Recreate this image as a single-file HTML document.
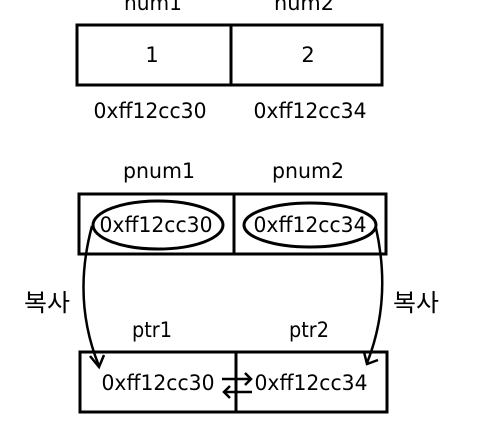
<!DOCTYPE html>
<html><head><meta charset="utf-8"><style>html,body{margin:0;padding:0;background:#fff}svg{display:block}</style></head>
<body>
<svg width="478" height="438" viewBox="0 0 478 438" xmlns="http://www.w3.org/2000/svg" font-family="'DejaVu Sans','Noto Sans CJK KR',sans-serif" font-size="21" fill="#000">
<g fill="none" stroke="#000" stroke-width="3">
<rect x="77" y="25" width="305" height="60"/>
<line x1="231" y1="25" x2="231" y2="85"/>
<rect x="79" y="194" width="307" height="60"/>
<line x1="234" y1="194" x2="234" y2="254"/>
<rect x="80" y="352" width="307" height="60"/>
<line x1="236" y1="352" x2="236" y2="412"/>
<ellipse cx="158" cy="225" rx="65" ry="24"/>
<ellipse cx="310" cy="225" rx="66" ry="22"/>
<path d="M92 226 Q72 300 99 366" stroke-width="2.5"/>
<path d="M90 356 L99 367 L104 355" stroke-width="2.5"/>
<path d="M376 228 Q392 300 367 363" stroke-width="2.5"/>
<path d="M364 352 L367 364 L378 360" stroke-width="2.5"/>
<path d="M222 379 L251 379 M245 373 L251 379 L245 385" stroke-width="2.5"/>
<path d="M252 392 L224 392 M230 386 L224 392 L230 398" stroke-width="2.5"/>
</g>
<g text-anchor="middle">
<text x="153" y="10" textLength="58" lengthAdjust="spacingAndGlyphs">num1</text>
<text x="304" y="10" textLength="60" lengthAdjust="spacingAndGlyphs">num2</text>
<text x="152" y="62">1</text>
<text x="308" y="62">2</text>
<text x="150" y="118" textLength="113" lengthAdjust="spacingAndGlyphs">0xff12cc30</text>
<text x="310" y="118" textLength="113" lengthAdjust="spacingAndGlyphs">0xff12cc34</text>
<text x="159" y="178" textLength="72" lengthAdjust="spacingAndGlyphs">pnum1</text>
<text x="308" y="178" textLength="72" lengthAdjust="spacingAndGlyphs">pnum2</text>
<text x="156" y="232" textLength="113" lengthAdjust="spacingAndGlyphs">0xff12cc30</text>
<text x="310" y="232" textLength="113" lengthAdjust="spacingAndGlyphs">0xff12cc34</text>
<text x="152" y="337" textLength="40" lengthAdjust="spacingAndGlyphs">ptr1</text>
<text x="309" y="337" textLength="40" lengthAdjust="spacingAndGlyphs">ptr2</text>
<text x="158" y="390" textLength="113" lengthAdjust="spacingAndGlyphs">0xff12cc30</text>
<text x="311" y="390" textLength="113" lengthAdjust="spacingAndGlyphs">0xff12cc34</text>
<text x="47" y="311" font-size="24" textLength="46" lengthAdjust="spacingAndGlyphs">복사</text>
<text x="416" y="311" font-size="24" textLength="46" lengthAdjust="spacingAndGlyphs">복사</text>
</g>
</svg>
</body></html>
